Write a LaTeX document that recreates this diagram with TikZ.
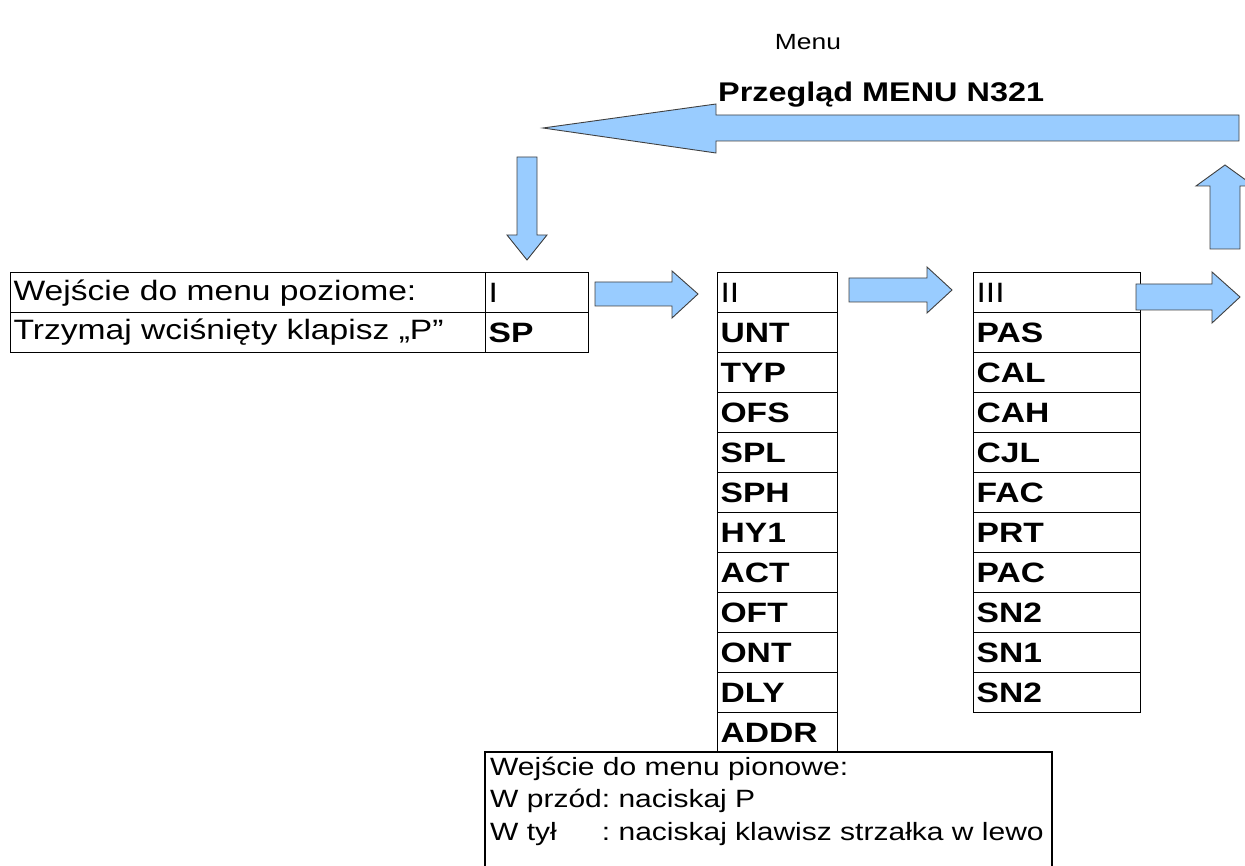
\documentclass[tikz,border=0pt]{standalone}
\usepackage{fontspec}
\setmainfont[FakeStretch=1.2]{Liberation Sans}
\frenchspacing
\newlength{\wlab}
\begin{document}
\begin{tikzpicture}[x=1pt,y=-1pt,
  cell/.style={draw=black, line width=1.2pt, anchor=north west, inner xsep=3pt, inner ysep=0pt,
     minimum height=40pt, align=left, font=\fontsize{28}{32}\selectfont},
  blk/.style={fill=arrowblue, draw=black!75, line width=0.9pt, line join=miter},
  txt/.style={inner sep=0pt, font=\fontsize{25}{30}\selectfont}
]
\definecolor{arrowblue}{HTML}{99CCFF}
\useasboundingbox (0,0) rectangle (1245,866);

% title
\node[txt, font=\fontsize{22}{26}\selectfont] (menu) at (808,42) {Menu};
\node[txt, anchor=west, font=\fontsize{27}{30}\selectfont\bfseries] (przeglad) at (718,95) {Przegląd MENU N321};

% left table
\node[cell, text width=469pt] (l11) at (10,272) {Wejście do menu poziome:};
\node[cell, text width=97pt] (l12) at (485,272) {I};
\node[cell, text width=469pt] (l21) at (10,312) {Trzymaj wciśnięty klapisz „P”};
\node[cell, text width=97pt] (l22) at (485,312) {\bfseries SP};

% column II
\foreach \t [count=\i from 0] in {II,\bfseries UNT,\bfseries TYP,\bfseries OFS,\bfseries SPL,\bfseries SPH,\bfseries HY1,\bfseries ACT,\bfseries OFT,\bfseries ONT,\bfseries DLY,\bfseries ADDR}
  \node[cell, text width=114pt] (b\i) at (717,272+40*\i) {\t};

% column III
\foreach \t [count=\i from 0] in {III,\bfseries PAS,\bfseries CAL,\bfseries CAH,\bfseries CJL,\bfseries FAC,\bfseries PRT,\bfseries PAC,\bfseries SN2,\bfseries SN1,\bfseries SN2}
  \node[cell, text width=161pt] (c\i) at (973,272+40*\i) {\t};

% bottom box
\coordinate (bl) at (485,866);
\coordinate (br) at (1052,866);
\draw[line width=1.2pt] (bl) |- (1052,752) -- (br);
\node[txt, anchor=west] (p1) at (490,769) {Wejście do menu pionowe:};
\node[txt, anchor=west] (p2) at (490,801) {\settowidth{\wlab}{W przód}W przód: naciskaj P};
\node[txt, anchor=west] (p3) at (490,834) {\settowidth{\wlab}{W przód}\makebox[\wlab][l]{W tył}: naciskaj klawisz strzałka w lewo};

% block arrows
\draw[blk] (595,282) -- (672,282) -- (672,271) -- (698,294) -- (672,318) -- (672,306) -- (595,306) -- cycle;
\draw[blk] (849,278) -- (927,278) -- (927,267) -- (952,290) -- (927,313) -- (927,302) -- (849,302) -- cycle;
\draw[blk] (1136,284) -- (1212,284) -- (1212,272) -- (1240,297) -- (1212,323) -- (1212,310) -- (1136,310) -- cycle;
\draw[blk] (1210,249) -- (1210,186) -- (1196,186) -- (1225,165) -- (1254,186) -- (1240,186) -- (1240,249) -- cycle;
\draw[blk] (1239,115) -- (716,115) -- (716,104) -- (543,128) -- (716,153) -- (716,141) -- (1239,141) -- cycle;
\draw[blk] (517,157) -- (537,157) -- (537,235) -- (547,235) -- (527,260) -- (507,235) -- (517,235) -- cycle;
\end{tikzpicture}
\end{document}
